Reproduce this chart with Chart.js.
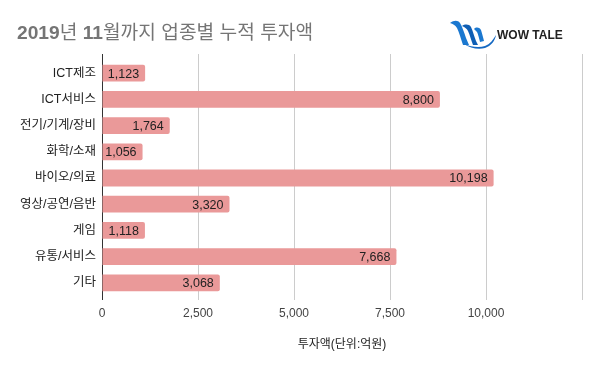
<!DOCTYPE html>
<html>
<head>
<meta charset="utf-8">
<script src="https://cdn.jsdelivr.net/npm/chart.js@4"></script>
<style>
  html, body { margin: 0; padding: 0; background: #fff; }
  #wrap { position: relative; width: 600px; height: 371px; overflow: hidden; }
  #title {
    position: absolute; left: 17px; top: 17px;
    font-family: "Liberation Sans", "Noto Sans CJK KR", sans-serif;
    font-size: 19.2px; color: #757575; white-space: nowrap;
  }
  #logo { position: absolute; left: 448px; top: 17px; width: 130px; height: 32px; }
  #logo span {
    position: absolute; left: 49px; top: 11px;
    font-family: "Liberation Sans", sans-serif; font-weight: bold; font-size: 12px; color: #222;
  }
  canvas { position: absolute; left: 0; top: 0; }
</style>
</head>
<body>
<div id="wrap">
  <canvas id="myChart" width="600" height="371"></canvas>
  <div id="title"><b>2019</b>년 <b>11</b>월까지 업종별 누적 투자액</div>
  <div id="logo">
    <svg width="50" height="32" viewBox="0 0 50 32">
      <path d="M2 6 C6 3 10 3 12 6 C14 9 16 15 18 21 L21 28 L15 28 C13 22 11 15 9 11 C7 8 5 7 2 6 Z" fill="#1b78d0"/>
      <path d="M14 9 C17 7 21 7 23 10 C25 14 26 19 28 24 L30 28 L25 28 C23 23 22 18 20 14 C19 12 17 10 14 9 Z" fill="#0f5fb5"/>
      <path d="M26 12 C28 10 31 10 33 13 C34 16 35 20 36 24 L32 25 C31 21 30 17 29 15 C28 14 27 13 26 12 Z" fill="#1b78d0"/>
      <path d="M16 27 C23 30 31 31 37 29 C42 27 45 23 48 18 C47 24 43 29 37 31 C30 33 22 31 16 27 Z" fill="#1468c2"/>
    </svg>
    <span>WOW TALE</span>
  </div>
</div>
<script>
// 데이터
const categorias = ["ICT제조", "ICT서비스", "전기/기계/장비", "화학/소재", "바이오/의료", "영상/공연/음반", "게임", "유통/서비스", "기타"];
const inversion = [1123, 8800, 1764, 1056, 10198, 3320, 1118, 7668, 3068];
const ticksX = [0, 2500, 5000, 7500, 10000, 12500];
const tickLabelsX = ["0", "2,500", "5,000", "7,500", "10,000", ""];
const tituloEje = "투자액(단위:억원)";

const fuente = "'Liberation Sans', 'Noto Sans CJK KR', sans-serif";

// etiquetas dentro de la barra, al final
const etiquetasBarra = {
  id: "etiquetasBarra",
  afterDatasetsDraw(chart) {
    const ctx = chart.ctx;
    const meta = chart.getDatasetMeta(0);
    ctx.save();
    ctx.font = "12.5px " + fuente;
    ctx.fillStyle = "#222";
    ctx.textAlign = "right";
    ctx.textBaseline = "middle";
    meta.data.forEach((bar, i) => {
      ctx.fillText(inversion[i].toLocaleString("en-US"), bar.x - 6, bar.y + 1);
    });
    ctx.restore();
  }
};

// las lineas de la grilla suben un poco sobre el area
const grillaArriba = {
  id: "grillaArriba",
  beforeDatasetsDraw(chart) {
    const ctx = chart.ctx;
    const x = chart.scales.x;
    ctx.save();
    ctx.lineWidth = 1;
    ticksX.forEach((v) => {
      const px = Math.round(x.getPixelForValue(v)) + 0.5;
      ctx.strokeStyle = v === 0 ? "#333" : "#cccccc";
      ctx.beginPath();
      ctx.moveTo(px, chart.chartArea.top - 6);
      ctx.lineTo(px, chart.chartArea.top);
      ctx.stroke();
    });
    ctx.restore();
  }
};

const config = {
  type: "bar",
  data: {
    labels: categorias,
    datasets: [{
      data: inversion,
      backgroundColor: "#ea9999",
      borderRadius: 2,
      borderSkipped: "start",
      categoryPercentage: 0.8,
      barPercentage: 0.8
    }]
  },
  options: {
    indexAxis: "y",
    responsive: false,
    animation: false,
    devicePixelRatio: 1,
    layout: { padding: { top: 60, right: 18, left: 0, bottom: 0 } },
    plugins: { legend: { display: false }, tooltip: { enabled: false } },
    scales: {
      x: {
        min: 0,
        max: 12500,
        afterFit: (s) => { s.height = 75; },
        afterBuildTicks: (s) => { s.ticks = ticksX.map((v) => ({ value: v })); },
        ticks: {
          padding: 6,
          color: "#444",
          font: { family: fuente, size: 12 },
          callback: (v) => tickLabelsX[ticksX.indexOf(v)]
        },
        grid: {
          color: (c) => (c.tick && c.tick.value === 0 ? "#333" : "#cccccc"),
          tickLength: 4,
          drawTicks: true
        },
        border: { display: false },
        title: {
          display: true,
          text: tituloEje,
          color: "#222",
          font: { family: fuente, size: 12 },
          padding: { top: 0, bottom: 19 }
        }
      },
      y: {
        afterFit: (s) => { s.width = 102; },
        ticks: {
          padding: 6,
          color: "#222",
          font: { family: fuente, size: 12.5 }
        },
        grid: { display: false, drawTicks: false },
        border: { display: false }
      }
    }
  },
  plugins: [etiquetasBarra, grillaArriba]
};

new Chart(document.getElementById("myChart").getContext("2d"), config);
</script>
</body>
</html>
